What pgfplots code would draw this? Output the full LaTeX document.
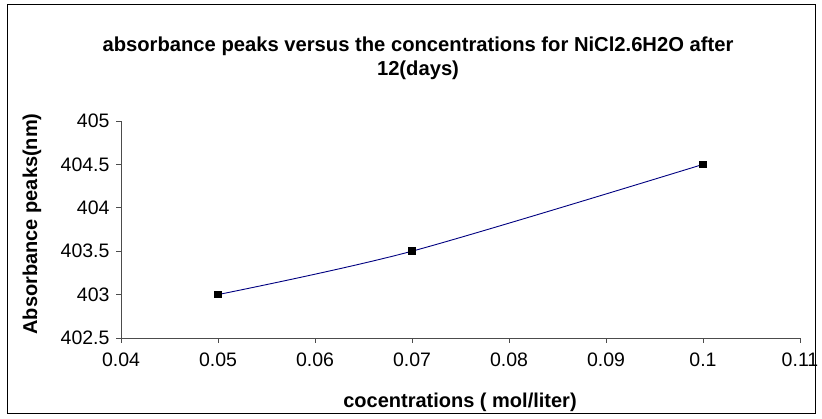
\documentclass[border=0pt]{standalone}
\usepackage{pgfplots}
\pgfplotsset{compat=1.18}
\usepackage{fontspec}
\setmainfont{Liberation Sans}
\begin{document}
\begin{tikzpicture}[x=1pt,y=1pt]
\useasboundingbox (0,0) rectangle (822,419);
\draw[black,line width=1pt] (7,5) rectangle (815,414);
\begin{axis}[
  at={(121pt,81pt)}, anchor=origin,
  scale only axis, width=679pt, height=217pt,
  xmin=0.04, xmax=0.11, ymin=402.5, ymax=405,
  xtick={0.04,0.05,...,0.11},
  xticklabels={0.04,0.05,0.06,0.07,0.08,0.09,0.1,0.11},
  ytick={402.5,403,...,405},
  yticklabels={402.5,403,403.5,404,404.5,405},
  axis lines*=left,
  axis line style={draw=black!70, line width=0.8pt},
  tick style={draw=black!70, line width=0.8pt},
  tick align=outside, major tick length=5pt,
  ticklabel style={font=\fontsize{19.5}{22}\selectfont},
  xticklabel style={yshift=-6pt},
  yticklabel style={xshift=-3pt},
  clip=false,
]
\addplot[color={rgb,255:red,0;green,0;blue,128}, line width=0.9pt, smooth,
  mark=square*, mark size=3.3pt, mark options={fill=black,draw=black}]
  coordinates {(0.05,403.0) (0.07,403.5) (0.1,404.5)};
\end{axis}
\node[font=\bfseries\fontsize{20.2}{22}\selectfont] at (418,373) {absorbance peaks versus the concentrations for NiCl2.6H2O after};
\node[font=\bfseries\fontsize{20.2}{22}\selectfont] at (418,349) {12(days)};
\node[font=\bfseries\fontsize{20}{22}\selectfont] at (460,17) {cocentrations ( mol/liter)};
\node[font=\bfseries\fontsize{20}{22}\selectfont, rotate=90] at (32,195) {Absorbance peaks(nm)};
\end{tikzpicture}
\end{document}
